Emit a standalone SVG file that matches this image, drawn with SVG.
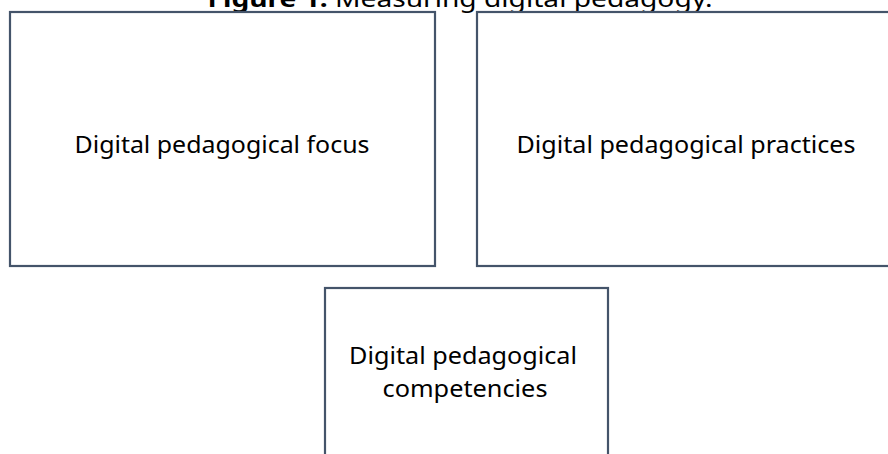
<svg xmlns="http://www.w3.org/2000/svg" width="888" height="454" viewBox="0 0 888 454">
<style>
.box{fill:#fff;stroke:#44546A;stroke-width:2.2}
.t{font-family:"Noto Sans","Open Sans","Liberation Sans",sans-serif;font-size:23px;fill:#000;text-anchor:middle}
</style>
<rect width="888" height="454" fill="#fff"/>
<text x="460" y="7" class="t" font-size="24" textLength="505" lengthAdjust="spacingAndGlyphs"><tspan font-weight="bold">Figure 1.</tspan> Measuring digital pedagogy.</text>
<g id="focus">
<rect class="box" x="10" y="12" width="425" height="254"/>
<text class="t" x="222" y="153" textLength="295" lengthAdjust="spacingAndGlyphs">Digital pedagogical focus</text>
</g>
<g id="practices">
<rect class="box" x="477" y="12" width="420" height="254"/>
<text class="t" x="686" y="153" textLength="339" lengthAdjust="spacingAndGlyphs">Digital pedagogical practices</text>
</g>
<g id="competencies">
<rect class="box" x="325" y="288" width="283" height="180"/>
<text class="t" x="463" y="364" textLength="228" lengthAdjust="spacingAndGlyphs">Digital pedagogical</text>
<text class="t" x="465" y="397" textLength="165" lengthAdjust="spacingAndGlyphs">competencies</text>
</g>
<g id="connectors"/>
</svg>
